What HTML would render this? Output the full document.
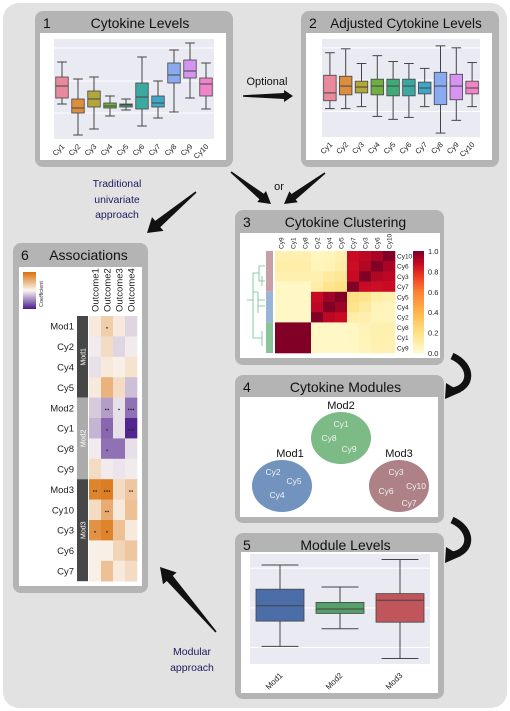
<!DOCTYPE html>
<html><head><meta charset="utf-8"><style>
html,body{margin:0;padding:0;background:#fff;width:510px;height:711px;overflow:hidden}
svg{display:block;font-family:"Liberation Sans",sans-serif}
</style></head><body>
<svg id="fig" width="510" height="711" viewBox="0 0 510 711">
<rect x="3" y="3" width="504" height="705" rx="16" fill="#e2e2e2"/>
<g id="frames"></g>
<g id="marks"></g>
<g id="arrows"></g>
<path d="M452,356 C474,366 472,388 452,391" fill="none" stroke="#111" stroke-width="7"/>
<polygon points="446,383 445,399 461,392" fill="#111"/>
<path d="M452,520 C474,530 472,552 452,555" fill="none" stroke="#111" stroke-width="7"/>
<polygon points="446,547 445,563 461,556" fill="#111"/>
<text x="267" y="85" font-size="11" text-anchor="middle" fill="#111">Optional</text>
<text x="279" y="190" font-size="11" text-anchor="middle" fill="#111">or</text>
<text font-size="10.5" text-anchor="middle" fill="#1b1b5e"><tspan x="117" y="187">Traditional</tspan><tspan x="117" y="203">univariate</tspan><tspan x="117" y="218">approach</tspan></text>
<text font-size="10.5" text-anchor="middle" fill="#1b1b5e"><tspan x="192" y="655">Modular</tspan><tspan x="192" y="671">approach</tspan></text>
</svg>
<script>
const NS="http://www.w3.org/2000/svg";
const cyCats=["Cy1","Cy2","Cy3","Cy4","Cy5","Cy6","Cy7","Cy8","Cy9","Cy10"];
const cyColors=["#e98a9c","#dc8d3e","#b3a63c","#6fae42","#3eaa75","#3ba9a0","#40a6c8","#8aaaf0","#d594f0","#f084c8"];
const rawLow=[35,4,10,23,29,13,21,27,41,30];
const rawQ1=[41,26,32,31,32,30,32,56,61,43];
const rawMed=[53,31,40,33,34,42,36,64,68,55];
const rawQ3=[62,40,48,36,35,56,43,76,79,61];
const rawHigh=[77,60,62,43,40,82,58,89,96,76];
const adjLow=[29,29,31,21,18,20,31,4,17,31];
const adjQ1=[37,43,45,43,42,42,44,33,38,44];
const adjMed=[45,52,51,52,52,52,50,52,52,50];
const adjQ3=[63,62,57,59,59,59,56,66,64,57];
const adjHigh=[86,90,75,83,77,75,70,93,91,76];
const modCats=["Mod1","Mod2","Mod3"];
const modColors=["#4c6ea8","#55a068","#c0555c"];
const modLow=[16,32,5];
const modQ1=[39,46,38];
const modMed=[53,50,58];
const modQ3=[68,56,64];
const modHigh=[90,70,95];
const gridVals=[26,58,91];
const modGridVals=[15,51,87];
const corrCols=["Cy9","Cy1","Cy8","Cy2","Cy4","Cy5","Cy7","Cy3","Cy6","Cy10"];
const corrRows=["Cy10","Cy6","Cy3","Cy7","Cy5","Cy4","Cy2","Cy8","Cy1","Cy9"];
const corrMatrix=[
[0.08,0.08,0.08,0.04,0.05,0.08,0.88,0.9,0.93,1.0],
[0.1,0.1,0.1,0.05,0.06,0.1,0.87,0.92,1.0,0.93],
[0.08,0.08,0.08,0.08,0.12,0.15,0.88,1.0,0.92,0.9],
[0.02,0.02,0.02,0.1,0.18,0.2,1.0,0.88,0.87,0.88],
[0.02,0.02,0.02,0.88,0.95,1.0,0.2,0.18,0.1,0.08],
[0.02,0.02,0.02,0.9,1.0,0.95,0.18,0.12,0.06,0.05],
[0.02,0.02,0.02,1.0,0.9,0.88,0.1,0.08,0.05,0.04],
[1,1,1,0.02,0.02,0.02,0.03,0.06,0.08,0.08],
[1,1,1,0.02,0.02,0.02,0.03,0.06,0.08,0.08],
[1,1,1,0.02,0.02,0.02,0.02,0.05,0.07,0.07]];
const cbTicks=["0.0","0.2","0.4","0.6","0.8","1.0"];
const assocRows=["Mod1","Cy2","Cy4","Cy5","Mod2","Cy1","Cy8","Cy9","Mod3","Cy10","Cy3","Cy6","Cy7"];
const outcomes=["Outcome1","Outcome2","Outcome3","Outcome4"];
const assocVals=[
[0.1,0.3,0.1,-0.15],[-0.05,0.2,-0.15,-0.05],[-0.1,0.1,0.05,0.15],[0.1,0.5,0.2,-0.25],
[-0.2,-0.4,-0.1,-0.6],[-0.3,-0.65,-0.1,-0.95],[-0.05,-0.6,-0.6,-0.1],[0.2,-0.05,-0.08,-0.05],
[0.85,0.9,0.2,0.35],[0.2,0.55,0.1,0.4],[0.75,0.85,0.4,0.1],[0.05,0.05,0.25,0.35],[0.05,0.4,0.1,0.2]];
const assocStars=[
[0,1,0,0],[0,0,0,0],[0,0,0,0],[0,0,0,0],
[0,2,1,3],[0,1,0,3],[0,1,0,0],[0,0,0,0],
[2,3,0,2],[0,2,0,0],[1,1,0,0],[0,0,0,0],[0,0,0,0]];
const modGroups=[["Mod1",0,4,"#474747"],["Mod2",4,4,"#ababab"],["Mod3",8,5,"#474747"]];
const mods=[["Mod1",282,486,["Cy2","Cy5","Cy4"],"#7193bd"],["Mod2",341,438,["Cy1","Cy8","Cy9"],"#7cba86"],["Mod3",399,486,["Cy3","Cy10","Cy6","Cy7"],"#ad8186"]];

const frames=document.getElementById('frames'), marks=document.getElementById('marks'), arrowsG=document.getElementById('arrows');
function mk(tag,attrs,parent){const e=document.createElementNS(NS,tag);for(const k in attrs)e.setAttribute(k,attrs[k]);(parent||marks).appendChild(e);return e;}
function txt(s,attrs,parent){const e=mk('text',attrs,parent);e.textContent=s;return e;}

// wedge arrows: tail point, tip point
function wedge(name,x1,y1,x2,y2,tw,bw,hw,hl){
  const dx=x2-x1,dy=y2-y1,L=Math.hypot(dx,dy),ux=dx/L,uy=dy/L,nx=-uy,ny=ux;
  const bx=x2-ux*hl,by=y2-uy*hl;
  const p=[[x1+nx*tw,y1+ny*tw],[bx+nx*bw,by+ny*bw],[bx+nx*hw,by+ny*hw],[x2,y2],[bx-nx*hw,by-ny*hw],[bx-nx*bw,by-ny*bw],[x1-nx*tw,y1-ny*tw]];
  const e=mk('polygon',{points:p.map(q=>q[0].toFixed(1)+','+q[1].toFixed(1)).join(' '),fill:'#111'},arrowsG);
  
  
}
wedge('optional-arrow',243,96,293,96,0.8,3,6,9);
wedge('univariate-arrow',196,192,147,233,0.8,4,9,14);
wedge('or-arrow-left',231,172,271,204,0.8,3.5,7,12);
wedge('or-arrow-right',325,173,284,204,0.8,3.5,7,12);
wedge('modular-arrow',216,632,160,567,0.8,4,9,15);

const panels=[
["panel-1",35,11,198,156,"1","Cytokine Levels",40,33,186,127],
["panel-2",301,11,198,156,"2","Adjusted Cytokine Levels",306,33,186,127],
["panel-3",235,210,209,155,"3","Cytokine Clustering",240,233,200,125],
["panel-4",235,375,209,148,"4","Cytokine Modules",240,397,198,120],
["panel-5",235,533,209,166,"5","Module Levels",241,552,197,141],
["panel-6",13,243,135,350,"6","Associations",19,267,123,319]];
panels.forEach(p=>{
  const g=mk('g',{},frames);
  
  
  const r=mk('rect',{x:p[1],y:p[2],width:p[3],height:p[4],rx:8,fill:"#b4b4b4"},g);
  
  
  const w=mk('rect',{x:p[7],y:p[8],width:p[9],height:p[10],fill:"#fff"},g);
  
  
  const n=txt(p[5],{x:p[1]+8,y:p[2]+17,'font-size':14,fill:"#111"},g);
  
  
  let cx=p[1]+p[3]/2+6; if(p[0]==="panel-6")cx=p[1]+p[3]/2+8;
  const t=txt(p[6],{x:cx,y:p[2]+17,'font-size':p[0]==="panel-2"?13.5:14,'text-anchor':'middle',fill:"#111"},g);
  
  
});

function boxplot(name,px,py,pw,ph,cats,cols,lo,q1,md,q3,hi,grid,bw,rot,fs,ly){
  const bg=mk('rect',{x:px,y:py,width:pw,height:ph,fill:"#eaeaf2"});
  
  
  const Y=v=>py+ph-v/100*ph, step=pw/cats.length, X=i=>px+step*(i+0.5);
  grid.forEach(v=>{const l=mk('line',{x1:px,x2:px+pw,y1:Y(v),y2:Y(v),stroke:"#fff","stroke-width":1});
    
    });
  cats.forEach((c,i)=>{
    const g=mk('g',{});
    
    
    const x=X(i),cap=bw*0.55;
    mk('line',{x1:x,x2:x,y1:Y(hi[i]),y2:Y(q3[i]),stroke:"#444","stroke-width":1},g);
    mk('line',{x1:x,x2:x,y1:Y(q1[i]),y2:Y(lo[i]),stroke:"#444","stroke-width":1},g);
    mk('line',{x1:x-cap/2*1.4,x2:x+cap/2*1.4,y1:Y(hi[i]),y2:Y(hi[i]),stroke:"#444","stroke-width":1},g);
    mk('line',{x1:x-cap/2*1.4,x2:x+cap/2*1.4,y1:Y(lo[i]),y2:Y(lo[i]),stroke:"#444","stroke-width":1},g);
    mk('rect',{x:x-bw/2,y:Y(q3[i]),width:bw,height:Y(q1[i])-Y(q3[i]),fill:cols[i],stroke:"#444","stroke-width":0.8},g);
    mk('line',{x1:x-bw/2,x2:x+bw/2,y1:Y(md[i]),y2:Y(md[i]),stroke:"#444","stroke-width":1},g);
    const t=txt(c,{x:x+3,y:ly,'font-size':fs,'text-anchor':'end',fill:"#222",transform:`rotate(${rot} ${x+3} ${ly})`});
    
    
  });
}
boxplot('raw-levels',54,39,160,100,cyCats,cyColors,rawLow,rawQ1,rawMed,rawQ3,rawHigh,gridVals,12.5,-45,7.5,147);
boxplot('adjusted-levels',322,39,158,98,cyCats,cyColors,adjLow,adjQ1,adjMed,adjQ3,adjHigh,gridVals,12.5,-45,7.5,145);
boxplot('module-levels',250,554,180,110,modCats,modColors,modLow,modQ1,modMed,modQ3,modHigh,modGridVals,48,-45,8,676);

const ylStops=[[0,[255,250,205]],[0.2,[254,225,130]],[0.4,[254,180,76]],[0.6,[253,130,55]],[0.75,[240,60,35]],[0.88,[200,10,35]],[1,[128,0,38]]];
function ylor(v){for(let i=1;i<ylStops.length;i++){if(v<=ylStops[i][0]){const a=ylStops[i-1],b=ylStops[i],t=(v-a[0])/(b[0]-a[0]);return `rgb(${a[1].map((c,k)=>Math.round(c+(b[1][k]-c)*t)).join(',')})`;}}return 'rgb(128,0,38)';}
const hx=275,hy=251,cw=12,chh=10.2;
corrRows.forEach((r,i)=>{corrCols.forEach((c,j)=>{
  const e=mk('rect',{x:hx+j*cw,y:hy+i*chh,width:cw+0.3,height:chh+0.3,fill:ylor(corrMatrix[i][j])});
  
  });
  const t=txt(r,{x:hx+cw*10+2,y:hy+i*chh+7.5,'font-size':6.5,fill:"#222"});
  
  });
corrCols.forEach((c,j)=>{const x=hx+j*cw+cw/2+2.5,y=hy-2;
  const t=txt(c,{x:x,y:y,'font-size':6.5,fill:"#222",transform:`rotate(-90 ${x} ${y})`});
  
  });
const cbx=413,cby=251,cbh=102;
for(let k=0;k<60;k++){const e=mk('rect',{x:cbx,y:cby+k*cbh/60,width:11,height:cbh/60+0.4,fill:ylor(1-k/59)});
  
  }
cbTicks.forEach((s,i)=>{const t=txt(s,{x:428,y:cby+cbh-i*cbh/5+3,'font-size':7.5,fill:"#222"});
  
  });
[["#c6a0a6",0,4],["#9ab4d6",4,3],["#8cc49a",7,3]].forEach(s=>{const e=mk('rect',{x:266,y:hy+s[1]*chh,width:7,height:s[2]*chh,fill:s[0]});
  
  });
const dg=mk('path',{d:"M265,266 H259 V281 H265 M259,273 H253 V338 H262 M262,331 V346 M253,300 H247 M258,292 H253 M258,292 V313 M258,300 H265 M258,306 H265 M262,276 V286",fill:"none",stroke:"#6cc08a","stroke-width":0.8});



mods.forEach(m=>{
  const g=mk('g',{});
  
  
  mk('ellipse',{cx:m[1],cy:m[2],rx:30,ry:26,fill:m[4]},g);
  txt(m[0],{x:m[1]+(m[0]==="Mod1"?8:0),y:m[2]-29,'font-size':11,'text-anchor':'middle',fill:"#111"},g);
  const off=m[0]==="Mod3"?[[-3,-14],[17,0],[-13,5],[10,17]]:m[0]==="Mod2"?[[0,-14],[-12,0],[8,11]]:[[-9,-14],[12,-5],[-5,9]];
  m[3].forEach((c,k)=>txt(c,{x:m[1]+off[k][0],y:m[2]+off[k][1]+3,'font-size':8.5,'text-anchor':'middle',fill:"#f2f2f2"},g));
});

function assocColor(v){const a=Math.min(1,Math.abs(v));const tgt=v>=0?[217,112,10]:[74,26,138];const base=[250,246,242];
  return `rgb(${base.map((c,k)=>Math.round(c+(tgt[k]-c)*a)).join(',')})`;}
const ax=89,ay=316,aw=12,ah=20.4;
assocRows.forEach((r,i)=>{outcomes.forEach((o,j)=>{
  const e=mk('rect',{x:ax+j*aw,y:ay+i*ah,width:aw+0.3,height:ah+0.3,fill:assocColor(assocVals[i][j])});
  
  
  const n=assocStars[i][j];
  for(let s=0;s<n;s++){const d=mk('circle',{cx:ax+j*aw+aw/2+(s-(n-1)/2)*2.4,cy:ay+i*ah+ah*0.58,r:0.8,fill:"#222"});
    
    }});
  const t=txt(r,{x:74,y:ay+i*ah+ah/2+3.5,'font-size':9.5,'text-anchor':'end',fill:"#222"});
  
  });
outcomes.forEach((o,j)=>{const x=ax+j*aw+aw/2+3.5,y=312;
  const t=txt(o,{x:x,y:y,'font-size':9.5,fill:"#222",transform:`rotate(-90 ${x} ${y})`});
  
  });
modGroups.forEach(g=>{const y0=ay+g[1]*ah,h=g[2]*ah;
  const e=mk('rect',{x:77,y:y0,width:11,height:h,fill:g[3]});
  
  
  const cx=85.5,cy=y0+h/2;
  const t=txt(g[0],{x:cx,y:cy,'font-size':7,'text-anchor':'middle',fill:"#fff",transform:`rotate(-90 ${cx} ${cy})`});
  
  });
const defs=mk('defs',{});
const lg=mk('linearGradient',{id:'coefGrad',x1:0,y1:0,x2:0,y2:1},defs);
mk('stop',{offset:'0','stop-color':'#d9700a'},lg);mk('stop',{offset:'0.5','stop-color':'#faf6f2'},lg);mk('stop',{offset:'1','stop-color':'#4a1a8a'},lg);
const leg=mk('rect',{x:23,y:272,width:13,height:37,fill:'url(#coefGrad)'});


const lt=txt("Coefficient",{x:43,y:307,'font-size':5.5,fill:"#333",transform:"rotate(-90 43 307)"});


</script>
</body></html>
